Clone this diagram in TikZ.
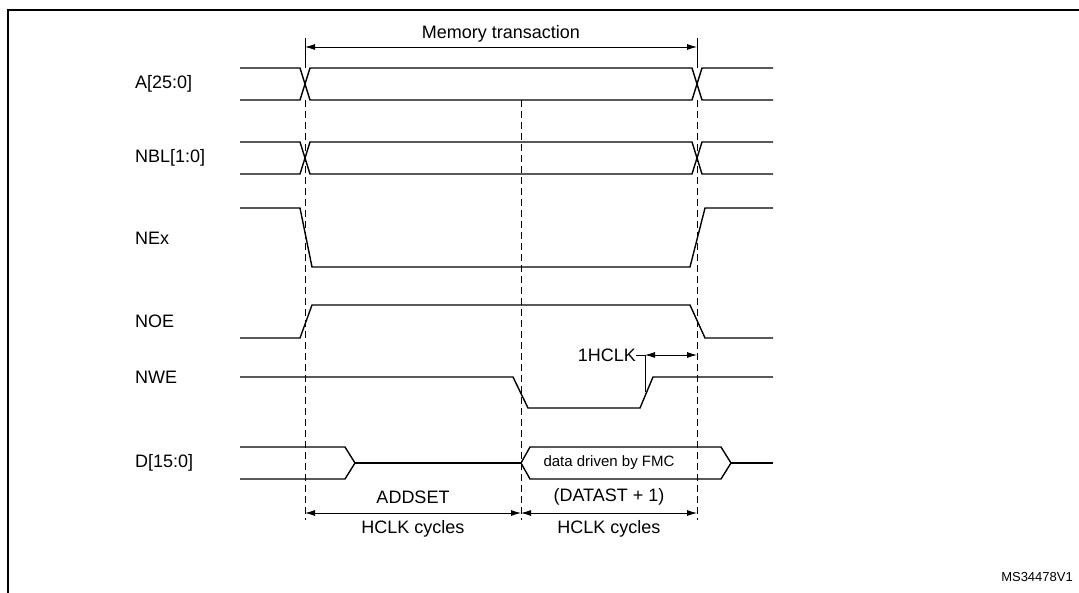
\documentclass[tikz,border=0pt]{standalone}
\usepackage{fontspec}
\setmainfont{Liberation Sans}
\usetikzlibrary{arrows.meta}
\begin{document}
\begin{tikzpicture}[x=1pt,y=-1pt,
  sig/.style={line width=1.4pt},
  dsh/.style={dash pattern=on 7pt off 4pt, line width=0.8pt},
  dim/.style={line width=0.9pt,{Latex[length=10pt,width=6pt]}-{Latex[length=10pt,width=6pt]}},
  lbl/.style={anchor=west,font=\fontsize{18}{20}\selectfont,inner sep=0pt},
  txt/.style={font=\fontsize{18}{20}\selectfont,inner sep=0pt}]
\useasboundingbox (0,0) rectangle (1079,593);
\draw[line width=1.5pt] (8,597) -- (8,10) -- (1085,10);
% labels
\node[lbl] (la) at (135,84) {A[25:0]};
\node[lbl] (lb) at (135,158) {NBL[1:0]};
\node[lbl] (lc) at (135,238) {NEx};
\node[lbl] (ld) at (135,321) {NOE};
\node[lbl] (le) at (135,377) {NWE};
\node[lbl] (lf) at (135,463) {D[15:0]};
% dashed
\coordinate (d1t) at (305,38); \coordinate (d1b) at (305,520);
\coordinate (d2t) at (521,100); \coordinate (d2b) at (521,520);
\coordinate (d3t) at (697,38); \coordinate (d3b) at (697,520);
\draw[line width=0.8pt] (d1t) -- (305,68);
\draw[line width=0.8pt] (d3t) -- (697,68);
\draw[dsh] (305,100) -- (d1b);
\draw[dsh] (d2t) -- (d2b);
\draw[dsh] (697,100) -- (d3b);
% bus A and NBL
\foreach \t/\b in {68/100,142/174}{
 \draw[sig] (240,\t) -- (300,\t) -- (310,\b) -- (692,\b) -- (702,\t) -- (773,\t);
 \draw[sig] (240,\b) -- (300,\b) -- (310,\t) -- (692,\t) -- (702,\b) -- (773,\b);
}
% NEx
\draw[sig] (240,208) -- (300,208) -- (312,267) -- (690,267) -- (705,208) -- (773,208);
% NOE
\draw[sig] (240,338) -- (300,338) -- (312,305) -- (690,305) -- (705,338) -- (773,338);
% NWE
\draw[sig] (240,377) -- (513,377) -- (528,408) -- (640,408) -- (653,377) -- (773,377);
% D
\draw[sig] (240,447) -- (345,447) -- (355,463) -- (345,479) -- (240,479);
\draw[sig] (355,463) -- (521,463);
\draw[sig] (731,463) -- (773,463);
\draw[sig] (721,447) -- (530,447) -- (521,463) -- (530,479) -- (721,479) -- (731,463) -- cycle;
\node[font=\fontsize{15}{17}\selectfont,inner sep=0pt] (dd) at (609,463) {data driven by FMC};
% memory transaction
\node[txt] (mt) at (501,34) {Memory transaction};
\draw[dim] (305,47) -- (697,47);
% 1HCLK
\node[txt,anchor=east] (hc) at (636,355) {1HCLK};
\coordinate (hv) at (645,355);
\draw[line width=0.8pt] (hc.east) -- (hv) -- (645,392);
\draw[dim] (hv) -- (697,355);
% bottom
\node[txt] (ad) at (413,497) {ADDSET};
\node[txt] (hc1) at (413,529) {HCLK cycles};
\node[txt] (da) at (609,497) {(DATAST + 1)};
\node[txt] (hc2) at (609,529) {HCLK cycles};
\draw[dim] (305,513) -- (521,513);
\draw[dim] (521,513) -- (697,513);
\node[font=\fontsize{13}{15}\selectfont,anchor=east,inner sep=0pt] (ms) at (1073,577) {MS34478V1};
\end{tikzpicture}
\end{document}
